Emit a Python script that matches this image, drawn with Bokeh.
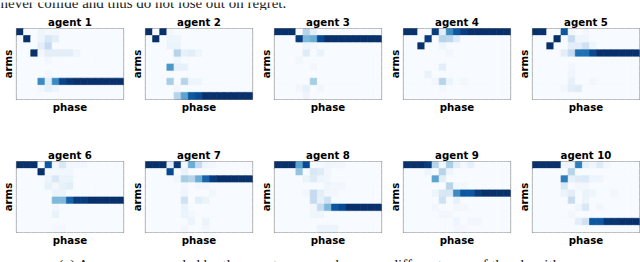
from bokeh.plotting import figure
from bokeh.layouts import column, row
from bokeh.models import ColumnDataSource, LinearColorMapper, Range1d
from bokeh.palettes import Blues256
from bokeh.core.properties import value
from bokeh.transform import transform
from bokeh.embed import file_html
from bokeh.resources import INLINE

top_text = ["never collide and thus do not lose out on regret."]
caption = ["(a) Arms recommended by the agents across phases on different runs of the algorithm."]
x_label = "phase"
y_label = "arms"

agent_1 = [
 [1,0,0,.05,.02,.02,0,0,0,0,0,0,0,0,0],
 [0,1,0,.05,.15,.1,0,0,0,0,0,0,0,0,0],
 [0,0,0,.1,.25,0,0,0,0,0,0,0,0,0,0],
 [0,0,1,.03,.1,.1,.1,.1,.05,0,0,0,0,0,0],
 [0,0,0,0,.03,0,0,0,0,0,0,0,0,0,0],
 [0,0,0,0,0,0,0,0,0,0,0,0,0,0,0],
 [0,0,0,0,.03,0,0,0,0,0,0,0,0,0,0],
 [0,0,0,.65,.1,.65,.92,.97,1,1,1,1,1,1,1],
 [0,0,0,.03,.08,.05,0,0,0,0,0,0,0,0,0],
 [0,0,0,0,0,0,0,0,0,0,0,0,0,0,0],
]
agent_2 = [
 [1,0,1,.03,0,0,0,0,0,0,0,0,0,0,0],
 [0,1,0,.05,.05,0,0,0,0,0,0,0,0,0,0],
 [0,0,0,.06,.06,0,0,0,0,0,0,0,0,0,0],
 [0,0,0,0,.3,.08,.1,.05,0,0,0,0,0,0,0],
 [0,0,0,0,.04,0,0,0,0,0,0,0,0,0,0],
 [0,0,0,.6,.08,.08,0,0,0,0,0,0,0,0,0],
 [0,0,0,0,0,0,0,0,0,0,0,0,0,0,0],
 [0,0,0,.35,0,.3,.05,.05,0,0,0,0,0,0,0],
 [0,0,0,0,.03,0,0,0,0,0,0,0,0,0,0],
 [0,0,0,0,.3,.55,.85,.9,1,1,1,1,1,1,1],
]
agent_3 = [
 [1,1,1,0,.3,.1,0,0,0,0,0,0,0,0,0],
 [0,0,0,.95,.45,.5,.9,1,1,1,1,1,1,1,1],
 [0,0,0,0,.05,.03,0,0,0,0,0,0,0,0,0],
 [0,0,0,0,.12,0,.07,0,0,0,0,0,0,0,0],
 [0,0,0,.03,0,0,0,0,0,0,0,0,0,0,0],
 [0,0,0,0,0,.03,0,0,0,0,0,0,0,0,0],
 [0,0,0,0,0,0,0,0,0,0,0,0,0,0,0],
 [0,0,0,0,0,.35,0,0,0,0,0,0,0,0,0],
 [0,0,0,.03,.08,0,.03,0,0,0,0,0,0,0,0],
 [0,0,0,0,.05,0,0,0,0,0,0,0,0,0,0],
]
agent_4 = [
 [1,1,0,0,.95,.1,.65,.85,.95,1,1,1,1,1,1],
 [0,0,0,.95,0,.3,.28,.12,0,0,0,0,0,0,0],
 [0,0,1,0,0,.05,0,0,0,0,0,0,0,0,0],
 [0,0,0,0,0,0,.03,0,0,0,0,0,0,0,0],
 [0,0,0,0,0,0,0,0,0,0,0,0,0,0,0],
 [0,0,0,0,0,.1,0,0,0,0,0,0,0,0,0],
 [0,0,0,.07,0,0,0,0,0,0,0,0,0,0,0],
 [0,0,0,0,.03,.3,.06,0,.03,0,0,0,0,0,0],
 [0,0,0,0,0,.02,0,0,0,0,0,0,0,0,0],
 [0,0,0,0,0,0,0,0,0,0,0,0,0,0,0],
]
agent_5 = [
 [1,1,0,0,.85,.03,0,.03,0,0,0,0,0,0,0],
 [0,0,0,1,0,.25,.05,.05,0,0,0,0,0,0,0],
 [0,0,1,0,0,.1,.1,.2,.05,0,0,0,0,0,0],
 [0,0,0,0,.1,.25,.75,.75,.9,1,1,1,1,1,1],
 [0,0,0,0,0,0,0,0,0,0,0,0,0,0,0],
 [0,0,0,0,0,.03,0,0,0,0,0,0,0,0,0],
 [0,0,0,0,0,.05,0,0,0,0,0,0,0,0,0],
 [0,0,0,0,0,.08,0,0,.03,0,0,0,0,0,0],
 [0,0,0,0,.03,.1,.12,0,0,0,0,0,0,0,0],
 [0,0,0,0,0,0,0,0,0,0,0,0,0,0,0],
]
agent_6 = [
 [1,1,1,0,.85,.03,.15,.03,.03,.03,0,0,0,0,0],
 [0,0,0,1,.02,.02,.03,.03,0,0,0,0,0,0,0],
 [0,0,0,0,.05,.15,.06,.06,0,0,0,0,0,0,0],
 [0,0,0,0,.08,.03,.08,.1,0,0,0,0,0,0,0],
 [0,0,0,0,0,.06,.06,0,0,0,0,0,0,0,0],
 [0,0,0,0,0,.45,.45,.8,.95,.95,1,1,1,1,1],
 [0,0,0,0,0,.03,0,0,0,0,0,0,0,0,0],
 [0,0,0,0,0,.07,0,0,0,0,0,0,0,0,0],
 [0,0,0,0,0,0,0,0,0,0,0,0,0,0,0],
 [0,0,0,0,0,.02,.02,0,0,0,0,0,0,0,0],
]
agent_7 = [
 [1,1,1,.1,.97,.02,.5,.25,.05,.03,0,0,0,0,0],
 [0,0,0,.9,0,.07,0,0,0,0,0,0,0,0,0],
 [0,0,0,0,.03,.35,.3,.5,.8,.95,1,1,1,1,1],
 [0,0,0,0,0,.03,0,.03,.03,0,0,0,0,0,0],
 [0,0,0,0,0,.05,0,0,0,.03,0,0,0,0,0],
 [0,0,0,0,0,.2,0,.1,.06,0,0,0,0,0,0],
 [0,0,0,0,0,.07,0,0,0,0,0,0,0,0,0],
 [0,0,0,0,0,.06,.03,0,0,0,0,0,0,0,0],
 [0,0,0,0,0,0,.06,0,.06,0,0,0,0,0,0],
 [0,0,0,0,0,.03,0,0,.03,0,0,0,0,0,0],
]
agent_8 = [
 [1,1,1,.55,.9,0,.02,.05,.03,.03,0,0,0,0,0],
 [0,0,0,.4,0,.15,.12,.03,0,0,0,0,0,0,0],
 [0,0,0,0,.06,.12,.05,.03,0,0,0,0,0,0,0],
 [0,0,0,0,0,0,0,.05,.03,.03,0,0,0,0,0],
 [0,0,0,0,.03,.25,.1,.03,.03,0,0,0,0,0,0],
 [0,0,0,0,0,.25,.08,.2,0,0,0,0,0,0,0],
 [0,0,0,0,0,.03,.25,.45,.85,.9,1,1,1,1,1],
 [0,0,0,0,0,.04,.05,0,0,0,0,0,0,0,0],
 [0,0,0,0,0,0,0,0,0,0,0,0,0,0,0],
 [0,0,0,0,0,0,.06,.06,.06,0,0,0,0,0,0],
]
agent_9 = [
 [1,1,1,.95,.3,.03,.35,.1,.02,.08,0,0,0,0,0],
 [0,0,0,.05,0,.3,.05,0,0,0,0,0,0,0,0],
 [0,0,0,0,.55,.1,0,0,0,0,0,0,0,0,0],
 [0,0,0,0,0,0,.3,.03,.03,0,0,0,0,0,0],
 [0,0,0,0,.05,.15,.15,.65,.85,.85,.95,1,1,1,1],
 [0,0,0,0,0,.2,0,.08,0,0,0,0,0,0,0],
 [0,0,0,0,.03,0,0,.03,.03,0,0,0,0,0,0],
 [0,0,0,0,0,.03,.03,0,0,0,0,0,0,0,0],
 [0,0,0,0,0,0,0,.05,0,.03,.03,0,0,0,0],
 [0,0,0,0,0,0,0,.02,.02,0,0,0,0,0,0],
]
agent_10 = [
 [1,1,1,1,.05,.05,.7,.08,.05,.12,.03,0,0,0,0],
 [0,0,0,0,0,.3,0,0,0,0,0,0,0,0,0],
 [0,0,0,0,.7,.08,.12,.14,.05,.05,0,0,0,0,0],
 [0,0,0,0,.15,0,.03,.03,0,0,0,0,0,0,0],
 [0,0,0,0,.06,.1,0,.06,.05,0,0,.03,0,0,0],
 [0,0,0,0,0,.25,0,.06,0,0,0,0,0,0,0],
 [0,0,0,0,0,0,.04,.15,0,.03,0,0,0,0,0],
 [0,0,0,0,0,.03,0,0,0,0,0,0,0,0,0],
 [0,0,0,0,0,0,.1,.2,.85,.85,.97,.98,1,1,1],
 [0,0,0,0,0,0,0,0,0,0,0,0,0,0,0],
]
agents = [agent_1, agent_2, agent_3, agent_4, agent_5,
          agent_6, agent_7, agent_8, agent_9, agent_10]
titles = [f"agent {i}" for i in range(1, 11)]

mapper = LinearColorMapper(palette=list(reversed(Blues256)), low=0, high=1)
BOLD = 10.2


def panel(matrix, name, top, bottom, last):
    n_rows, n_cols = len(matrix), len(matrix[0])
    xs, ys, vs = [], [], []
    for r, cells in enumerate(matrix):
        for c, v in enumerate(cells):
            xs.append(c + 0.5)
            ys.append(r + 0.5)
            vs.append(v)
    p = figure(frame_width=107, frame_height=71,
               min_border_left=20, min_border_right=1 if last else 2,
               min_border_top=top, min_border_bottom=bottom,
               x_range=Range1d(0, n_cols), y_range=Range1d(n_rows, 0),
               output_backend="svg", toolbar_location=None, title=name)
    src = ColumnDataSource(dict(x=xs, y=ys, v=vs))
    p.rect("x", "y", 1, 1, source=src, fill_color=transform("v", mapper),
           line_color=transform("v", mapper), line_width=0.7)
    p.grid.visible = False
    p.outline_line_color = "#7f7f7f"
    p.outline_line_width = 1.2
    p.title.text_font = "DejaVu Sans"
    p.title.text_font_size = f"{BOLD}px"
    p.title.text_font_style = "bold"
    p.title.text_color = "black"
    p.title.align = "center"
    p.title.standoff = 1
    for ax, lab, off in ((p.xaxis[0], x_label, 2), (p.yaxis[0], y_label, 3)):
        ax.ticker = []
        ax.axis_line_color = None
        ax.major_tick_line_color = None
        ax.minor_tick_line_color = None
        ax.major_label_text_font_size = "0px"
        ax.axis_label = lab
        ax.axis_label_text_font = "DejaVu Sans"
        ax.axis_label_text_font_size = f"{BOLD}px"
        ax.axis_label_text_font_style = "bold"
        ax.axis_label_text_color = "black"
        ax.axis_label_standoff = off
    return p


def strip(text, h, ypos, size, baseline):
    p = figure(frame_width=644, frame_height=h, min_border=0,
               x_range=Range1d(-4, 640), y_range=Range1d(h, 0),
               output_backend="svg", toolbar_location=None)
    p.axis.visible = False
    p.grid.visible = False
    p.outline_line_color = None
    p.text(x=[ypos[0]], y=[ypos[1]], text=text, text_font=value("Liberation Serif"),
           text_font_size=size, text_baseline=baseline, text_color="#222222")
    return p


row1 = row([panel(agents[i], titles[i], 18, 26, i == 4) for i in range(5)], spacing=0)
row2 = row([panel(agents[i], titles[i], 36, 20, i == 9) for i in range(5, 10)], spacing=0)
top_strip = strip(top_text, 10, (0, 0.7), "15px", "alphabetic")
bottom_strip = strip(caption, 10, (58, 2), "15px", "top")
page = column(top_strip, row1, row2, bottom_strip, spacing=0, margin=(0, 0, 0, -4))
open("out.html", "w").write(file_html(page, INLINE))
